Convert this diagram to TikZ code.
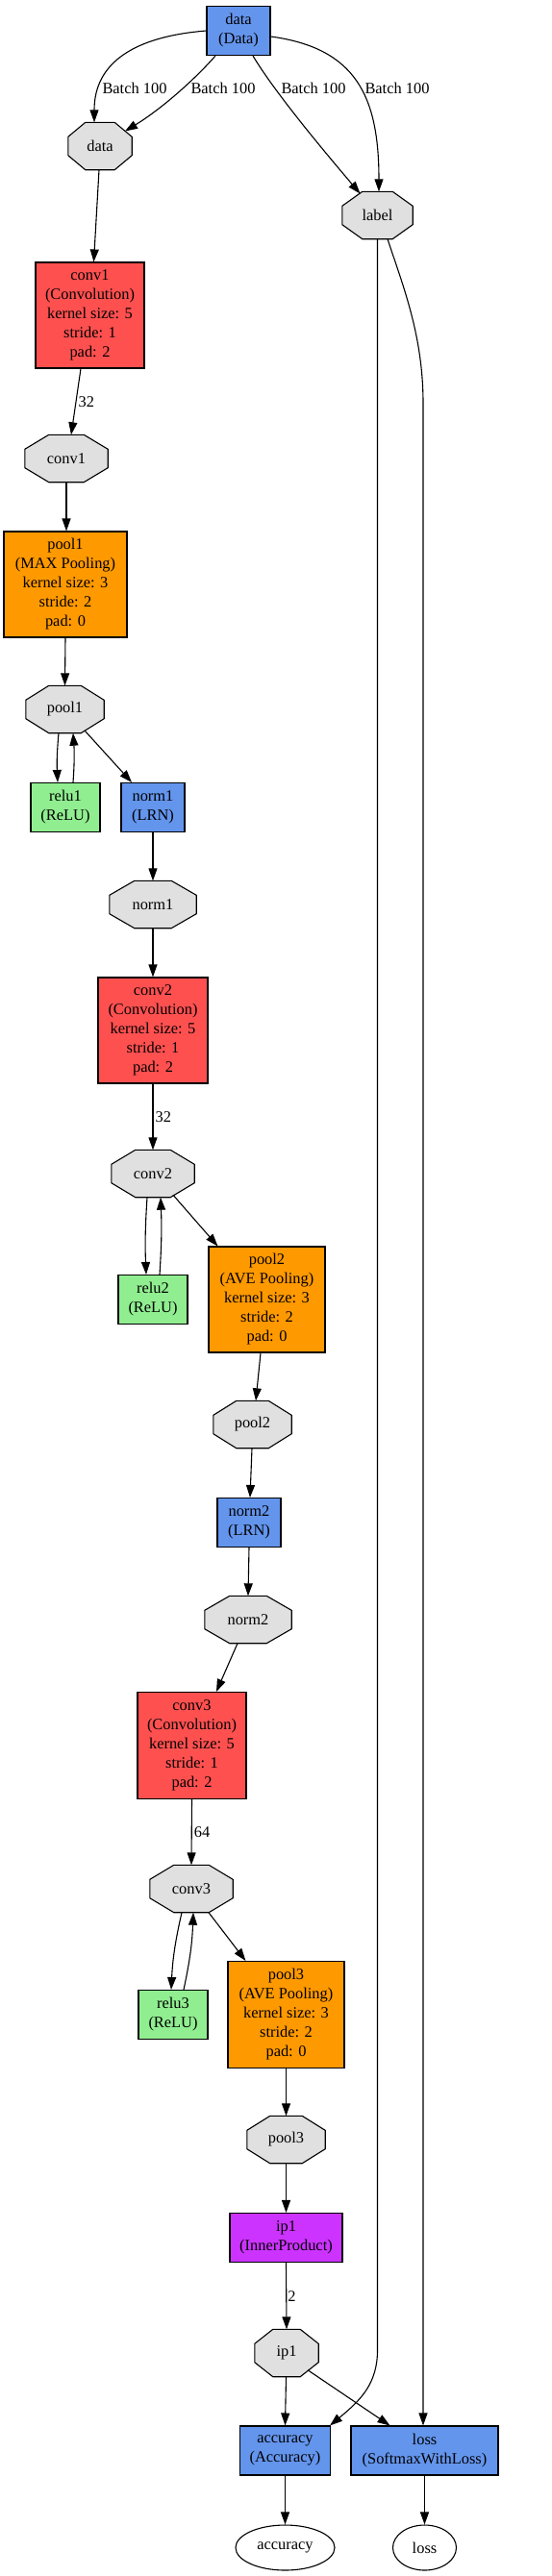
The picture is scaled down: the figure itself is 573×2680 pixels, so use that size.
\documentclass[tikz,border=0pt]{standalone}
\usepackage{fontspec}
\setmainfont{Liberation Serif}
\usetikzlibrary{arrows.meta,shapes.geometric,backgrounds}
\definecolor{layerblue}{HTML}{6495ED}
\definecolor{convred}{HTML}{FF5050}
\definecolor{poolorange}{HTML}{FF9900}
\definecolor{relugreen}{HTML}{90EE90}
\definecolor{ipviolet}{HTML}{CC33FF}
\definecolor{blobgray}{HTML}{E0E0E0}
\newcommand\octdraw[2]{%
  \filldraw[octline] ([xshift=#2]#1.north west) -- ([xshift=-#2]#1.north east)
    -- ([yshift=-15]#1.north east) -- ([yshift=15]#1.south east)
    -- ([xshift=-#2]#1.south east) -- ([xshift=#2]#1.south west)
    -- ([yshift=15]#1.south west) -- ([yshift=-15]#1.north west) -- cycle;}
\begin{document}
\begin{tikzpicture}[x=1pt,y=-1pt,
  every node/.style={font=\fontsize{16.4}{20}\selectfont, inner sep=0pt, align=center},
  layerbox/.style={rectangle, draw=black, line width=1.1pt},
  datalayer/.style={layerbox, fill=layerblue},
  convlayer/.style={layerbox, fill=convred},
  poollayer/.style={layerbox, fill=poolorange},
  relulayer/.style={layerbox, fill=relugreen},
  iplayer/.style={layerbox, fill=ipviolet},
  blob/.style={rectangle, minimum height=49},
  octline/.style={draw=black, fill=blobgray, line width=1.1pt},
  outblob/.style={ellipse, draw=black, line width=1.1pt, minimum height=47},
  flow/.style={-{Triangle[length=13pt,width=9pt]}, line width=1.1pt},
  elabel/.style={}
]
\useasboundingbox (0,0) rectangle (573,2680);

% layers and blobs
\node[datalayer, minimum width=66, minimum height=51] (dataL) at (248,32) {data\\(Data)};
\node[blob, minimum width=66] (dataB) at (104,152) {data};
\node[blob, minimum width=73] (labelB) at (392.5,224) {label};
\node[convlayer, minimum width=113, minimum height=110] (conv1L) at (93.5,328) {conv1\\(Convolution)\\kernel size: 5\\stride: 1\\pad: 2};
\node[blob, minimum width=86] (conv1B) at (69,477) {conv1};
\node[poollayer, minimum width=128, minimum height=110] (pool1L) at (68,608) {pool1\\(MAX Pooling)\\kernel size: 3\\stride: 2\\pad: 0};
\node[blob, minimum width=81] (pool1B) at (67.5,738) {pool1};
\node[relulayer, minimum width=72, minimum height=51] (relu1L) at (68,840) {relu1\\(ReLU)};
\node[datalayer, minimum width=66, minimum height=51] (norm1L) at (159,840) {norm1\\(LRN)};
\node[blob, minimum width=90] (norm1B) at (159,941) {norm1};
\node[convlayer, minimum width=114, minimum height=110] (conv2L) at (159,1072) {conv2\\(Convolution)\\kernel size: 5\\stride: 1\\pad: 2};
\node[blob, minimum width=86] (conv2B) at (159,1221) {conv2};
\node[relulayer, minimum width=72, minimum height=51] (relu2L) at (159,1352) {relu2\\(ReLU)};
\node[poollayer, minimum width=121, minimum height=110] (pool2L) at (277.5,1352) {pool2\\(AVE Pooling)\\kernel size: 3\\stride: 2\\pad: 0};
\node[blob, minimum width=81] (pool2B) at (262.5,1482) {pool2};
\node[datalayer, minimum width=66, minimum height=51] (norm2L) at (259,1584) {norm2\\(LRN)};
\node[blob, minimum width=90] (norm2B) at (258,1685) {norm2};
\node[convlayer, minimum width=113, minimum height=111] (conv3L) at (199.5,1816) {conv3\\(Convolution)\\kernel size: 5\\stride: 1\\pad: 2};
\node[blob, minimum width=86] (conv3B) at (199,1965) {conv3};
\node[relulayer, minimum width=72, minimum height=51] (relu3L) at (180,2096) {relu3\\(ReLU)};
\node[poollayer, minimum width=121, minimum height=111] (pool3L) at (297.5,2096) {pool3\\(AVE Pooling)\\kernel size: 3\\stride: 2\\pad: 0};
\node[blob, minimum width=81] (pool3B) at (297.5,2226) {pool3};
\node[iplayer, minimum width=117, minimum height=51] (ip1L) at (297.5,2328) {ip1\\(InnerProduct)};
\node[blob, minimum width=66] (ip1B) at (298,2448) {ip1};
\node[datalayer, minimum width=94, minimum height=51] (accL) at (296.5,2549.5) {accuracy\\(Accuracy)};
\node[datalayer, minimum width=153, minimum height=51] (lossL) at (441.5,2549.5) {loss\\(SoftmaxWithLoss)};
\node[outblob, minimum width=103] (accB) at (296.5,2650.5) {accuracy};
\node[outblob, minimum width=66] (lossB) at (441.5,2650.5) {loss};

% octagon outlines of blobs
\begin{scope}[on background layer]
\octdraw{dataB}{18}
\octdraw{labelB}{21}
\octdraw{conv1B}{25}
\octdraw{pool1B}{24}
\octdraw{norm1B}{26}
\octdraw{conv2B}{25}
\octdraw{pool2B}{24}
\octdraw{norm2B}{26}
\octdraw{conv3B}{25}
\octdraw{pool3B}{24}
\octdraw{ip1B}{19}
\end{scope}

% edge labels
\node[elabel] (lb1) at (140,92) {Batch 100};
\node[elabel] (lb2) at (232,92) {Batch 100};
\node[elabel] (lb3) at (326,92) {Batch 100};
\node[elabel] (lb4) at (413,92) {Batch 100};

\coordinate (lblturn) at (392.5,2445);
\coordinate (lossturn) at (440,420);

% connectors
\draw[flow] (dataL.west) .. controls (140,38) and (98,65) .. ([xshift=-6]dataB.north);
\draw[flow] ([xshift=-24]dataL.south) .. controls (205,80) and (170,112) .. ([shift={(26,-15.5)}]dataB.center);
\draw[flow] ([xshift=15]dataL.south) .. controls (285,95) and (335,155) .. ([shift={(-18,-22.5)}]labelB.center);
\draw[flow] ([yshift=-6]dataL.east) .. controls (370,50) and (394,100) .. ([xshift=1.5]labelB.north);
\draw[flow] (labelB.south) -- (lblturn) .. controls (392.5,2480) and (375,2497) .. ([xshift=-1]accL.north east);
\draw[flow] ([xshift=10.5]labelB.south) .. controls (420,300) and (440,350) .. (lossturn) -- ([xshift=-1.5]lossL.north);

\draw[flow] ([xshift=-1]dataB.south) -- ([xshift=4]conv1L.north);
\draw[flow] ([xshift=-9.5]conv1L.south) -- node[midway, right=2] (l32a) {32} ([xshift=5]conv1B.north);
\draw[flow] (conv1B.south) -- ([xshift=1]pool1L.north);
\draw[flow] (pool1L.south) -- (pool1B.north);
\draw[flow] ([xshift=-6.5]pool1B.south) to[bend right=4] ([xshift=-8]relu1L.north);
\draw[flow] ([xshift=8]relu1L.north) to[bend right=4] ([xshift=8.5]pool1B.south);
\draw[flow] ([shift={(20.5,22)}]pool1B.center) -- ([xshift=-22]norm1L.north);
\draw[flow] (norm1L.south) -- (norm1B.north);
\draw[flow] (norm1B.south) -- (conv2L.north);
\draw[flow] (conv2L.south) -- node[midway, right=2] (l32b) {32} (conv2B.north);
\draw[flow] ([xshift=-6]conv2B.south) to[bend right=3] ([xshift=-7]relu2L.north);
\draw[flow] ([xshift=7]relu2L.north) to[bend right=3] ([xshift=8]conv2B.south);
\draw[flow] ([shift={(21,22.2)}]conv2B.center) -- ([xshift=10]pool2L.north west);
\draw[flow] ([xshift=-6.5]pool2L.south) -- ([xshift=3.5]pool2B.north);
\draw[flow] ([xshift=-0.5]pool2B.south) -- ([xshift=1]norm2L.north);
\draw[flow] (norm2L.south) -- (norm2B.north);
\draw[flow] ([xshift=-11]norm2B.south) -- ([xshift=25.5]conv3L.north);
\draw[flow] (conv3L.south) -- node[midway, right=2] (l64) {64} (conv3B.north);
\draw[flow] ([xshift=-10]conv3B.south) to[bend right=5] ([xshift=-2]relu3L.north);
\draw[flow] ([xshift=11]relu3L.north) to[bend right=5] ([xshift=2]conv3B.south);
\draw[flow] ([xshift=18]conv3B.south) -- ([xshift=19]pool3L.north west);
\draw[flow] (pool3L.south) -- (pool3B.north);
\draw[flow] (pool3B.south) -- (ip1L.north);
\draw[flow] (ip1L.south) -- node[midway, right=1] (l2) {2} (ip1B.north);
\draw[flow] ([xshift=-0.5]ip1B.south) -- (accL.north);
\draw[flow] ([shift={(22,17.7)}]ip1B.center) -- ([xshift=41]lossL.north west);
\draw[flow] (accL.south) -- (accB.north);
\draw[flow] (lossL.south) -- (lossB.north);
\end{tikzpicture}
\end{document}
